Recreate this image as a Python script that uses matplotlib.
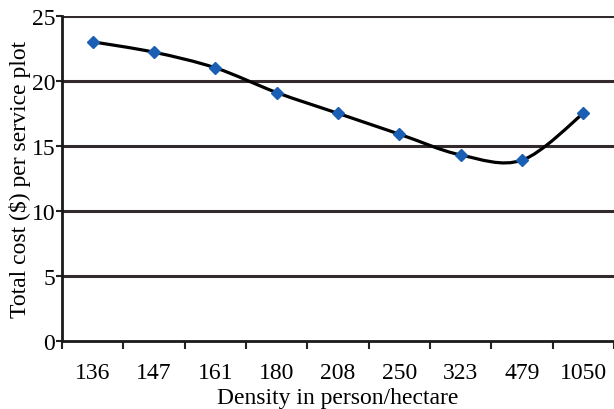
import matplotlib
matplotlib.use("Agg")
import matplotlib.pyplot as plt
from matplotlib.path import Path
from matplotlib.patches import PathPatch
import numpy as np

categories = ["136", "147", "161", "180", "208", "250", "323", "479", "1050"]
costs = [23.0, 22.2, 21.0, 19.1, 17.5, 15.9, 14.3, 13.9, 17.5]
y_ticks = [0, 5, 10, 15, 20, 25]

plt.rcParams['font.family'] = ['Liberation Serif', 'DejaVu Serif']

fig = plt.figure(figsize=(6.14, 4.10), dpi=100)
ax = fig.add_axes([0.101, 0.166, 0.899, 0.793])

x = np.arange(len(categories))
y = np.array(costs)

# Smooth curve (Excel-style Bezier smoothing) through the data points
verts = [(x[0], y[0])]
codes = [Path.MOVETO]
n = len(x)
for i in range(n - 1):
    p0 = np.array([x[max(i - 1, 0)], y[max(i - 1, 0)]])
    p1 = np.array([x[i], y[i]])
    p2 = np.array([x[i + 1], y[i + 1]])
    p3 = np.array([x[min(i + 2, n - 1)], y[min(i + 2, n - 1)]])
    c1 = p1 + (p2 - p0) / 6.0
    c2 = p2 - (p3 - p1) / 6.0
    verts += [tuple(c1), tuple(c2), tuple(p2)]
    codes += [Path.CURVE4, Path.CURVE4, Path.CURVE4]
curve = PathPatch(Path(verts, codes), facecolor='none', edgecolor='black',
                  linewidth=2.3, zorder=3, capstyle='round', joinstyle='round')
ax.add_patch(curve)

ax.plot(x, y, linestyle='none', marker='D', markersize=6,
        markerfacecolor='#1a5fb4', markeredgecolor='#1a5fb4', zorder=4)

for t in y_ticks[1:]:
    ax.axhline(t, color='#332b2b', linewidth=2.2, zorder=1)

ax.set_xlim(-0.5, 8.46)
ax.set_ylim(0, 25)
ax.set_yticks(y_ticks)
ax.set_yticklabels([str(t) for t in y_ticks])
ax.set_xticks(x)
ax.set_xticklabels(categories)
ax.set_xticks(np.arange(-0.5, 8.6, 1.0), minor=True)
ax.tick_params(axis='x', which='major', length=0, pad=15, labelsize=17)
ax.tick_params(axis='x', which='minor', length=6, width=1.5, direction='out', color='#222222')
ax.tick_params(axis='y', which='major', length=4, width=1.5, direction='out', pad=1, labelsize=17, color='#222222')

for s in ['top', 'right']:
    ax.spines[s].set_visible(False)
for s in ['left', 'bottom']:
    ax.spines[s].set_linewidth(2.0)
    ax.spines[s].set_color('#1a1a1a')

ax.set_xlabel("Density in person/hectare", fontsize=17, labelpad=3)
ax.set_ylabel("Total cost ($) per service plot", fontsize=17, labelpad=0)

fig.savefig("out.png", dpi=100, facecolor='white')
